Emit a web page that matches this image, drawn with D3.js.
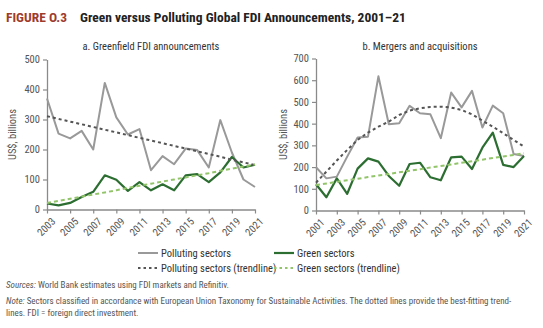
<!DOCTYPE html>
<html>
<head>
<meta charset="utf-8">
<script src="https://cdn.jsdelivr.net/npm/d3@7"></script>
<style>
html,body{margin:0;padding:0;background:#fff;}
svg{display:block;}
text{font-family:"Liberation Sans Narrow","Arial Narrow","Roboto Condensed","Liberation Sans",sans-serif;}
</style>
</head>
<body>
<svg id="chart" width="543" height="328"></svg>
<script>
// Panel a: Greenfield FDI announcements (US$ billions)
const yearsA = d3.range(2003, 2022);
const pollutingA = [370, 253, 237, 262, 200, 422, 307, 250, 268, 131, 178, 151, 203, 198, 140, 298, 190, 100, 75];
const greenA = [20, 14, 22, 42, 59, 114, 99, 62, 91, 64, 84, 64, 114, 118, 91, 124, 175, 140, 149];
const pollutingTrendA = [311, 302, 293, 284, 275, 266, 257, 248, 239, 230, 221, 212, 203, 194, 185, 176, 166, 157, 148];
const greenTrendA = [22, 29, 36, 43, 50, 57, 64, 72, 79, 86, 93, 100, 107, 114, 121, 129, 136, 143, 150];

// Panel b: Mergers and acquisitions (US$ billions)
const yearsB = d3.range(2001, 2022);
const pollutingB = [199, 148, 156, 248, 336, 340, 618, 397, 402, 482, 448, 443, 333, 543, 475, 551, 382, 483, 448, 260, 251];
const greenB = [121, 61, 148, 77, 193, 240, 225, 159, 114, 214, 220, 153, 139, 245, 248, 191, 289, 359, 210, 200, 251];
const pollutingTrendB = [128, 179, 230, 279, 325, 359, 386, 409, 440, 460, 471, 477, 478, 474, 463, 443, 414, 386, 356, 325, 294];
const greenTrendB = [117, 124, 132, 139, 146, 154, 161, 168, 176, 183, 190, 198, 205, 212, 220, 227, 234, 242, 249, 256, 264];

const yTicksA = [0, 100, 200, 300, 400, 500];
const yTicksB = [0, 100, 200, 300, 400, 500, 600, 700];

const titleLabel = "FIGURE O.3";
const titleText = "Green versus Polluting Global FDI Announcements, 2001\u201321";
const subtitleA = "a. Greenfield FDI announcements";
const subtitleB = "b. Mergers and acquisitions";
const yLabel = "US$, billions";
const legendItems = ["Polluting sectors", "Green sectors", "Polluting sectors (trendline)", "Green sectors (trendline)"];

const C = {
  polluting: "#999999",
  green: "#2c6e31",
  pollTrend: "#555555",
  greenTrend: "#92c46a",
  axis: "#8a8a8a",
  tick: "#555555"
};

const svg = d3.select("#chart");

// Title
const title = svg.append("text").attr("x", 6).attr("y", 22)
  .attr("font-size", 13.5).attr("font-weight", "bold");
title.append("tspan").attr("fill", "#9e3b2c").text(titleLabel);
title.append("tspan").attr("x", 80).attr("fill", "#222").text(titleText);

function panel(cfg) {
  const g = svg.append("g");
  const x = d3.scaleLinear().domain([cfg.years[0], cfg.years[cfg.years.length - 1]]).range([cfg.x0, cfg.x1]);
  const y = d3.scaleLinear().domain([0, cfg.ymax]).range([cfg.yb, cfg.yt]);

  g.append("text").attr("x", (cfg.x0 + cfg.x1) / 2).attr("y", 50)
    .attr("text-anchor", "middle").attr("font-size", 10.5).attr("fill", "#333").text(cfg.subtitle);

  g.append("text").attr("transform", `translate(${cfg.ylx},${(cfg.yb + cfg.yt) / 2}) rotate(-90)`)
    .attr("text-anchor", "middle").attr("font-size", 10.5).attr("fill", "#555").text(yLabel);

  const ya = g.append("g").attr("transform", `translate(${cfg.x0},0)`)
    .call(d3.axisLeft(y).tickValues(cfg.yticks).tickSize(4).tickSizeOuter(0).tickPadding(3));
  const xa = g.append("g").attr("transform", `translate(0,${cfg.yb})`)
    .call(d3.axisBottom(x).tickValues(d3.range(cfg.years[0], 2022, 2)).tickFormat(d3.format("d")).tickSize(4).tickSizeOuter(0));
  [ya, xa].forEach(a => {
    a.selectAll(".domain").attr("stroke", C.axis).attr("stroke-width", 1.3);
    a.selectAll(".tick line").attr("stroke", C.axis).attr("stroke-width", 1.2);
    a.selectAll("text").attr("fill", C.tick).attr("font-size", 10.5)
      .attr("font-family", '"Liberation Sans Narrow","Arial Narrow","Liberation Sans",sans-serif');
  });
  xa.selectAll("text").attr("text-anchor", "end").attr("dy", null).attr("y", null)
    .attr("transform", "translate(3,7) rotate(-45)").attr("dominant-baseline", "hanging");

  const line = d3.line().x((d, i) => x(cfg.years[i])).y(d => y(d));
  const series = [
    { d: cfg.pollTrend, c: C.pollTrend, w: 2, dash: "3,3" },
    { d: cfg.greenTrend, c: C.greenTrend, w: 2, dash: "4,3" },
    { d: cfg.polluting, c: C.polluting, w: 2, dash: null },
    { d: cfg.green, c: C.green, w: 2.2, dash: null }
  ];
  // draw order: polluting, green, then trendlines on top
  [series[2], series[3], series[0], series[1]].forEach(s => {
    g.append("path").datum(s.d).attr("d", line).attr("fill", "none")
      .attr("stroke", s.c).attr("stroke-width", s.w).attr("stroke-linejoin", "round")
      .attr("stroke-dasharray", s.dash);
  });
}

panel({ years: yearsA, polluting: pollutingA, green: greenA, pollTrend: pollutingTrendA, greenTrend: greenTrendA,
  x0: 47, x1: 255, yb: 209.5, yt: 59.5, ymax: 500, yticks: yTicksA, subtitle: subtitleA, ylx: 16 });
panel({ years: yearsB, polluting: pollutingB, green: greenB, pollTrend: pollutingTrendB, greenTrend: greenTrendB,
  x0: 316, x1: 524, yb: 210.5, yt: 58.5, ymax: 700, yticks: yTicksB, subtitle: subtitleB, ylx: 287 });

// Legend
const leg = svg.append("g");
const legSpec = [
  { x: 138, y: 253, c: C.polluting, dash: null, w: 2 },
  { x: 274, y: 253, c: C.green, dash: null, w: 2.2 },
  { x: 138, y: 268, c: C.pollTrend, dash: "2.5,3", w: 2 },
  { x: 274, y: 268, c: C.greenTrend, dash: "2.5,3", w: 2 }
];
legSpec.forEach((s, i) => {
  leg.append("line").attr("x1", s.x).attr("x2", s.x + 20).attr("y1", s.y).attr("y2", s.y)
    .attr("stroke", s.c).attr("stroke-width", s.w).attr("stroke-dasharray", s.dash);
  leg.append("text").attr("x", s.x + 23).attr("y", s.y + 3.5).attr("font-size", 10.5).attr("fill", "#333").text(legendItems[i]);
});

// Notes
const notes = svg.append("g").attr("font-size", 9).attr("fill", "#555");
const s1 = notes.append("text").attr("x", 6).attr("y", 288);
s1.append("tspan").attr("font-style", "italic").text("Sources:");
s1.append("tspan").text(" World Bank estimates using FDI markets and Refinitiv.");
const s2 = notes.append("text").attr("x", 6).attr("y", 304);
s2.append("tspan").attr("font-style", "italic").text("Note:");
s2.append("tspan").text(" Sectors classified in accordance with European Union Taxonomy for Sustainable Activities. The dotted lines provide the best-fitting trend-");
notes.append("text").attr("x", 6).attr("y", 316).text("lines. FDI = foreign direct investment.");
</script>
</body>
</html>
